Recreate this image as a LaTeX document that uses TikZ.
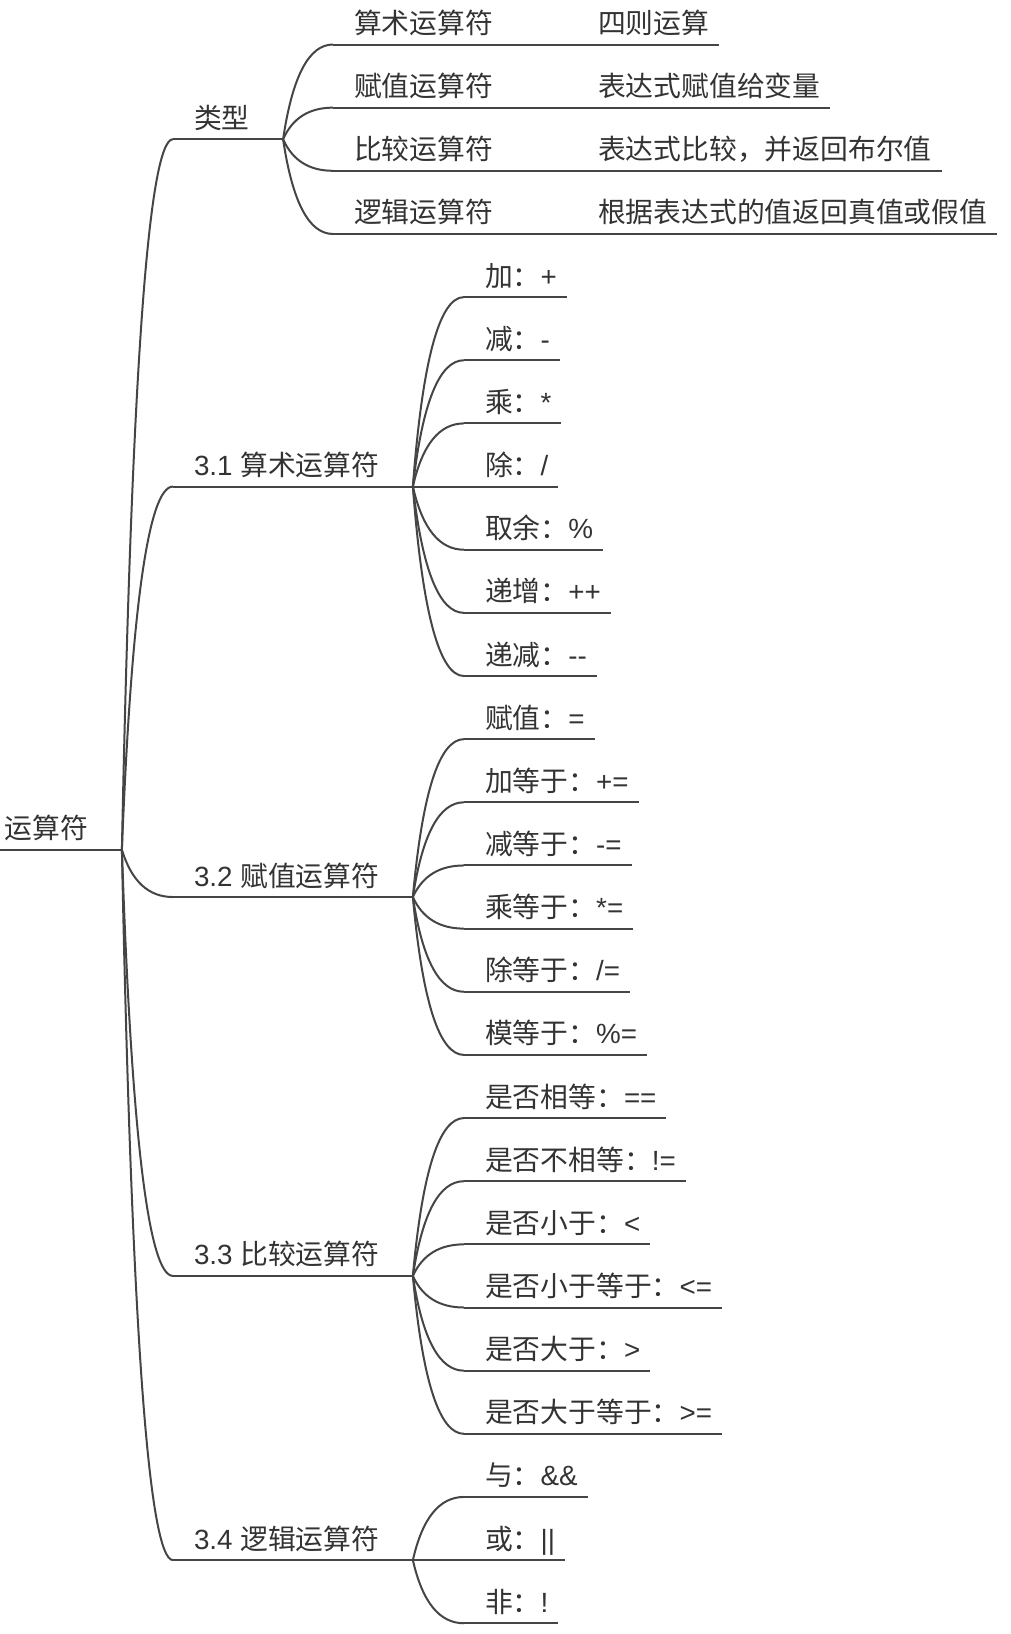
\documentclass[tikz,border=0pt]{standalone}
\usepackage{fontspec}
\setmainfont{Noto Sans CJK SC}
\newfontfamily\latf{Liberation Sans}
\usetikzlibrary{calc}
\definecolor{txtc}{HTML}{333333}
\definecolor{linec}{HTML}{454545}
\newcommand\yy[1]{44.5+63.15*#1}
\newcommand\fsz{\fontsize{27.8pt}{30pt}\selectfont}
\tikzset{
  lbl/.style={anchor=base west, inner sep=0pt, outer sep=0pt, font=\fsz, text=txtc},
  br/.style={draw=linec, line width=2pt, line join=round}
}
\newcommand\mmleaf[4]{%
  \node[lbl, yshift=11pt] (#1) at (#2,{#3}) {#4};
  \coordinate (#1-in) at ([xshift=-21pt,yshift=-11pt]#1.base west);
  \coordinate (#1-out) at ([xshift=10pt,yshift=-11pt]#1.base east);
  \draw[br] (#1-in) -- (#1-out);
}
\newcommand\mmparent[4]{%
  \node[lbl, yshift=11pt] (#1) at (#2,{#3}) {#4};
  \coordinate (#1-in) at ([xshift=-21pt,yshift=-11pt]#1.base west);
  \coordinate (#1-out) at ([xshift=33.5pt,yshift=-11pt]#1.base east);
  \draw[br] (#1-in) -- (#1-out);
}
\newcommand\mmlink[2]{%
  \draw[br] let \p1=(#1-out), \p2=(#2-in) in
    (\p1) .. controls ({\x1+0.187*(\x2-\x1)},{\y1+0.667*(\y2-\y1)})
          and ({\x2-0.48*(\x2-\x1)},\y2) .. (\p2);
}
\begin{document}
\begin{tikzpicture}[x=1pt,y=-1pt]
\useasboundingbox (0,0) rectangle (1011,1634);
% root
\node[lbl, yshift=11pt] (root) at (5,849.66) {运算符};
\coordinate (root-in) at (0,849.66);
\coordinate (root-out) at ([xshift=33.5pt,yshift=-11pt]root.base east);
\draw[br] (root-in) -- (root-out);
% level 1
\mmparent{t}{194}{139.225}{类型}
\mmparent{a}{194}{\yy{7}}{{\latf 3.1 }算术运算符}
\mmparent{b}{194}{897.025}{{\latf 3.2 }赋值运算符}
\mmparent{c}{194}{1275.925}{{\latf 3.3 }比较运算符}
\mmparent{d}{194}{\yy{24}}{{\latf 3.4 }逻辑运算符}
\mmlink{root}{t}
\mmlink{root}{a}
\mmlink{root}{b}
\mmlink{root}{c}
\mmlink{root}{d}
% types
\mmparent{t1}{354}{\yy{0}}{算术运算符}
\mmparent{t2}{354}{\yy{1}}{赋值运算符}
\mmparent{t3}{354}{\yy{2}}{比较运算符}
\mmparent{t4}{354}{\yy{3}}{逻辑运算符}
\mmlink{t}{t1}
\mmlink{t}{t2}
\mmlink{t}{t3}
\mmlink{t}{t4}
\mmleaf{t1a}{598}{\yy{0}}{四则运算}
\mmleaf{t2a}{598}{\yy{1}}{表达式赋值给变量}
\mmleaf{t3a}{598}{\yy{2}}{表达式比较，并返回布尔值}
\mmleaf{t4a}{598}{\yy{3}}{根据表达式的值返回真值或假值}
\mmlink{t1}{t1a}
\mmlink{t2}{t2a}
\mmlink{t3}{t3a}
\mmlink{t4}{t4a}
% 3.1
\mmleaf{a1}{485}{\yy{4}}{加：{\latf +}}
\mmleaf{a2}{485}{\yy{5}}{减：{\latf -}}
\mmleaf{a3}{485}{\yy{6}}{乘：{\latf *}}
\mmleaf{a4}{485}{\yy{7}}{除：{\latf /}}
\mmleaf{a5}{485}{\yy{8}}{取余：{\latf \%}}
\mmleaf{a6}{485}{\yy{9}}{递增：{\latf ++}}
\mmleaf{a7}{485}{\yy{10}}{递减：{\latf -\kern0pt-}}
\foreach \k in {1,...,7}{\mmlink{a}{a\k}}
% 3.2
\mmleaf{b1}{485}{\yy{11}}{赋值：{\latf =}}
\mmleaf{b2}{485}{\yy{12}}{加等于：{\latf +=}}
\mmleaf{b3}{485}{\yy{13}}{减等于：{\latf -=}}
\mmleaf{b4}{485}{\yy{14}}{乘等于：{\latf *=}}
\mmleaf{b5}{485}{\yy{15}}{除等于：{\latf /=}}
\mmleaf{b6}{485}{\yy{16}}{模等于：{\latf \%=}}
\foreach \k in {1,...,6}{\mmlink{b}{b\k}}
% 3.3
\mmleaf{c1}{485}{\yy{17}}{是否相等：{\latf ==}}
\mmleaf{c2}{485}{\yy{18}}{是否不相等：{\latf !=}}
\mmleaf{c3}{485}{\yy{19}}{是否小于：{\latf <}}
\mmleaf{c4}{485}{\yy{20}}{是否小于等于：{\latf <=}}
\mmleaf{c5}{485}{\yy{21}}{是否大于：{\latf >}}
\mmleaf{c6}{485}{\yy{22}}{是否大于等于：{\latf >=}}
\foreach \k in {1,...,6}{\mmlink{c}{c\k}}
% 3.4
\mmleaf{d1}{485}{\yy{23}}{与：{\latf \&\&}}
\mmleaf{d2}{485}{\yy{24}}{或：{\latf ||}}
\mmleaf{d3}{485}{\yy{25}}{非：{\latf !}}
\foreach \k in {1,...,3}{\mmlink{d}{d\k}}
\end{tikzpicture}
\end{document}
